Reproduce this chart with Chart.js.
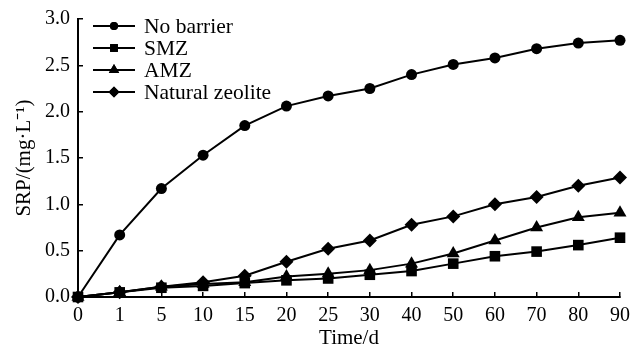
<!DOCTYPE html>
<html>
<head>
<meta charset="utf-8">
<script src="https://cdn.jsdelivr.net/npm/chart.js@4/dist/chart.umd.min.js"></script>
<style>
  html, body { margin: 0; padding: 0; background: #fff; }
  #wrap { width: 633px; height: 353px; }
</style>
</head>
<body>
<div id="wrap"><canvas id="c" width="633" height="353"></canvas></div>
<script>
const categories = ['0', '1', '5', '10', '15', '20', '25', '30', '40', '50', '60', '70', '80', '90'];
const seriesNames = ['No barrier', 'SMZ', 'AMZ', 'Natural zeolite'];
const noBarrier = [0, 0.67, 1.17, 1.53, 1.85, 2.06, 2.17, 2.25, 2.40, 2.51, 2.58, 2.68, 2.74, 2.77];
const smz       = [0, 0.05, 0.10, 0.12, 0.15, 0.18, 0.20, 0.24, 0.28, 0.36, 0.44, 0.49, 0.56, 0.64];
const amz       = [0, 0.05, 0.11, 0.14, 0.16, 0.22, 0.25, 0.29, 0.36, 0.47, 0.61, 0.75, 0.86, 0.91];
const natural   = [0, 0.05, 0.11, 0.16, 0.23, 0.38, 0.52, 0.61, 0.78, 0.87, 1.00, 1.08, 1.20, 1.29];
const yTicks = [0, 0.5, 1.0, 1.5, 2.0, 2.5, 3.0];

const FONT = "'Liberation Serif', 'Times New Roman', serif";
const FS = 20;
const FS_TEXT = 21;
const FS_LEGEND = 21.5;
const styles = [
  { pointStyle: 'circle', radius: 5.5, legendRadius: 4 },
  { pointStyle: 'rect', radius: 7.5, legendRadius: 5.5 },
  { pointStyle: 'triangle', radius: 7.5, legendRadius: 6 },
  { pointStyle: 'rectRot', radius: 7, legendRadius: 5.5 }
];
const allSeries = [noBarrier, smz, amz, natural];

const datasets = allSeries.map((vals, i) => ({
  label: seriesNames[i],
  data: vals,
  borderColor: '#000',
  backgroundColor: '#000',
  borderWidth: 2,
  pointStyle: styles[i].pointStyle,
  pointRadius: styles[i].radius,
  pointHoverRadius: styles[i].radius,
  pointBorderWidth: 0,
  pointBackgroundColor: '#000',
  tension: 0,
  clip: false
}));

const legendPlugin = {
  id: 'lineLegend',
  afterDatasetsDraw(chart) {
    const ctx = chart.ctx;
    const area = chart.chartArea;
    const x0 = area.left + 15, x1 = area.left + 57, xm = (x0 + x1) / 2;
    const tx = area.left + 66;
    const rowTop = area.top + 7, rowH = 22;
    ctx.save();
    chart.data.datasets.forEach((ds, i) => {
      const y = rowTop + i * rowH;
      ctx.strokeStyle = '#000';
      ctx.lineWidth = 2;
      ctx.beginPath();
      ctx.moveTo(x0, y);
      ctx.lineTo(x1, y);
      ctx.stroke();
      ctx.fillStyle = '#000';
      Chart.helpers.drawPoint(ctx, { pointStyle: styles[i].pointStyle, radius: styles[i].legendRadius, borderWidth: 0, rotation: 0 }, xm, y);
      ctx.fill();
      ctx.font = FS_LEGEND + 'px ' + FONT;
      ctx.textBaseline = 'middle';
      ctx.textAlign = 'left';
      ctx.fillText(ds.label, tx, y + 1);
    });
    ctx.restore();
  }
};

new Chart(document.getElementById('c'), {
  type: 'line',
  data: { labels: categories, datasets },
  options: {
    responsive: false,
    animation: false,
    events: [],
    layout: { padding: { top: 19, right: 13, left: 0, bottom: 0 } },
    plugins: { legend: { display: false }, tooltip: { enabled: false } },
    scales: {
      x: {
        type: 'category',
        offset: false,
        grid: { display: true, drawOnChartArea: false, drawTicks: true, tickLength: -5, color: '#000', lineWidth: 1.5 },
        border: { display: true, color: '#000', width: 2 },
        ticks: { color: '#000', font: { family: FONT, size: FS }, padding: 12, maxRotation: 0, autoSkip: false },
        title: { display: true, text: 'Time/d', color: '#000', font: { family: FONT, size: FS_TEXT }, padding: { top: 0, bottom: 2 } },
        afterFit(scale) { scale.height = 56; scale.paddingLeft = 0; scale.paddingRight = 0; }
      },
      y: {
        min: 0, max: 3,
        afterBuildTicks(scale) { scale.ticks = yTicks.map(v => ({ value: v })); },
        grid: { display: true, drawOnChartArea: false, drawTicks: true, tickLength: -5, color: '#000', lineWidth: 1.5 },
        border: { display: true, color: '#000', width: 2 },
        ticks: { color: '#000', font: { family: FONT, size: FS }, padding: 13, callback: v => Number(v).toFixed(1) },
        title: { display: true, text: 'SRP/(mg·L⁻¹)', color: '#000', font: { family: FONT, size: FS_TEXT }, padding: { top: 12, bottom: 0 } },
        afterFit(scale) { scale.width = 78; scale.paddingTop = 0; scale.paddingBottom = 0; }
      }
    }
  },
  plugins: [legendPlugin]
});
</script>
</body>
</html>
